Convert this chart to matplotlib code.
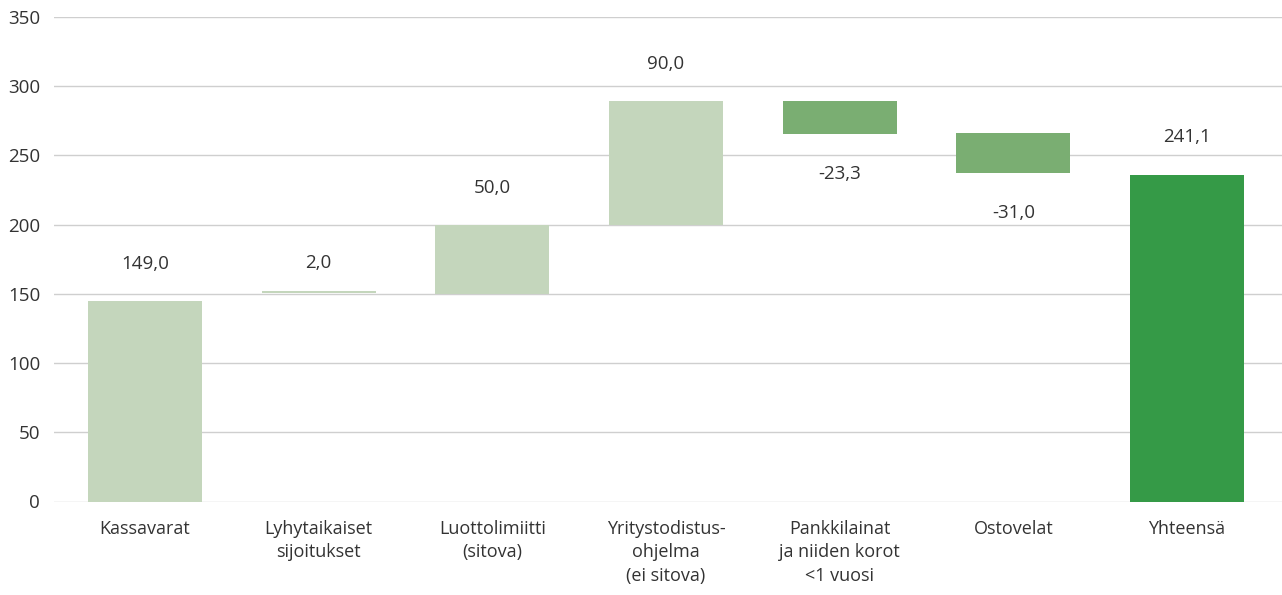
import matplotlib.pyplot as plt

# categories and values
categories = ["Kassavarat", "Lyhytaikaiset\nsijoitukset", "Luottolimiitti\n(sitova)",
              "Yritystodistus-\nohjelma\n(ei sitova)", "Pankkilainat\nja niiden korot\n<1 vuosi",
              "Ostovelat", "Yhteensä"]
labels = [149.0, 2.0, 50.0, 90.0, -23.3, -31.0, 241.1]
# bar extents as drawn in the reference
bar_bottom = [0, 150.7, 150, 200, 265.6, 237.3, 0]
bar_top = [144.8, 152.0, 200, 289.5, 289.5, 266.3, 236.0]
kinds = ["up", "up", "up", "up", "down", "down", "total"]

colors = {"up": "#c4d6bc", "down": "#7aae72", "total": "#359a47"}
txt = "#333333"
label_pad = [26.5, 20, 26.5, 26.5, -29, -29, 27.5]  # points from bar edge

plt.rcParams['font.family'] = ['Open Sans', 'DejaVu Sans']

fig = plt.figure(figsize=(12.82, 5.95), dpi=100)
ax = fig.add_axes([54 / 1282, 1 - 501.5 / 595, 1 - 54 / 1282, (501.5 - 17) / 595])

x = list(range(len(categories)))
heights = [t - b for t, b in zip(bar_top, bar_bottom)]
ax.bar(x, heights, bottom=bar_bottom, width=0.656,
       color=[colors[k] for k in kinds], zorder=2)

for i, v in enumerate(labels):
    s = f"{v:.1f}".replace(".", ",")
    anchor = bar_bottom[i] if v < 0 else bar_top[i]
    ax.annotate(s, (i, anchor), xytext=(0, label_pad[i]), textcoords="offset points",
                ha="center", va="center", fontsize=13.5, color=txt)

ax.set_ylim(0, 350)
ax.set_xlim(-0.524, 6.547)
ax.set_yticks(range(0, 351, 50))
ax.set_xticks(x)
ax.set_xticklabels(categories, fontsize=13, color=txt, linespacing=1.4)
ax.tick_params(axis="y", labelsize=13.5, labelcolor=txt, length=0, pad=10)
ax.tick_params(axis="x", length=0, pad=13)
ax.grid(axis="y", color="#cfcfcf", linewidth=1, zorder=0)
for sp in ax.spines.values():
    sp.set_visible(False)

plt.savefig("out.png", dpi=100)
